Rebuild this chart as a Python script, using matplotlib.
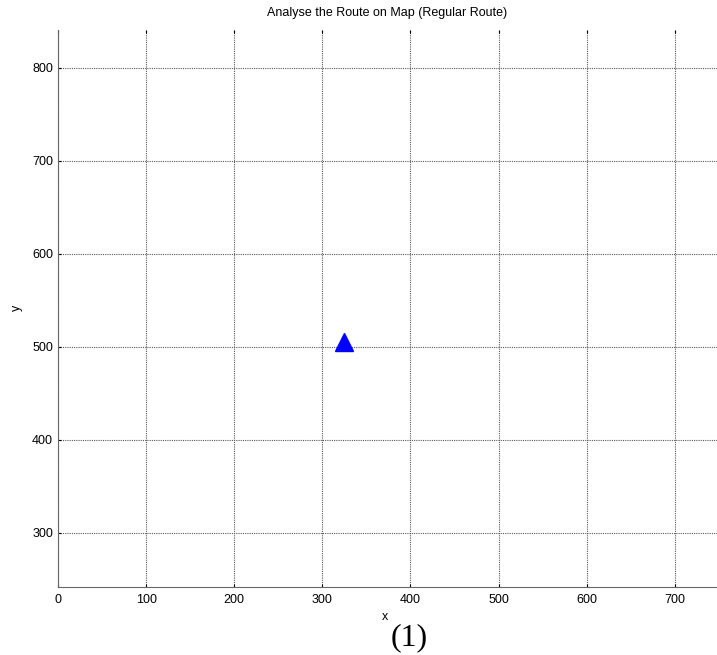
import matplotlib
matplotlib.use("Agg")
import matplotlib.pyplot as plt

# route point shown on the map
route_x = [325]
route_y = [505]

x_ticks = [0, 100, 200, 300, 400, 500, 600, 700]
y_ticks = [300, 400, 500, 600, 700, 800]

plt.rcParams['font.family'] = ['Liberation Sans', 'DejaVu Sans']

fig = plt.figure(figsize=(7.17, 6.55), dpi=100)
ax = fig.add_axes([58 / 717, 1 - 587.3 / 655, 1 - 58 / 717, (587.3 - 29.5) / 655])

ax.plot(route_x, route_y, linestyle='none', marker='^', markersize=13,
        color='blue', markeredgecolor='blue')

ax.set_xlim(0, 748)
ax.set_ylim(241.3, 841.3)
ax.set_xticks(x_ticks)
ax.set_yticks(y_ticks)

ax.grid(True, color='0.35', linestyle=(0, (1, 1)), linewidth=0.8)
ax.set_axisbelow(True)

for side in ['top', 'right']:
    ax.spines[side].set_visible(False)
for side in ['left', 'bottom']:
    ax.spines[side].set_color('0.4')
    ax.spines[side].set_linestyle((0, (1, 1)))
    ax.spines[side].set_linewidth(0.8)

ax.tick_params(axis='both', direction='in', length=2.5, width=0.8,
               labelsize=9, colors='black')
ax.tick_params(axis='x', top=True, pad=5)
ax.tick_params(axis='y', right=False, pad=3.5)

ax.set_title('Analyse the Route on Map (Regular Route)', fontsize=9, pad=9.5)

fig.text(385 / 717, 1 - 617 / 655, 'x', fontsize=9, ha='center', va='center')
fig.text(17 / 717, 1 - 308 / 655, 'y', fontsize=9, ha='center', va='center',
         rotation=90)
fig.text(409 / 717, 1 - 638 / 655, '(1)', fontsize=23, ha='center', va='center',
         family=['Liberation Serif', 'DejaVu Serif'])

fig.savefig('out.png', dpi=100)
